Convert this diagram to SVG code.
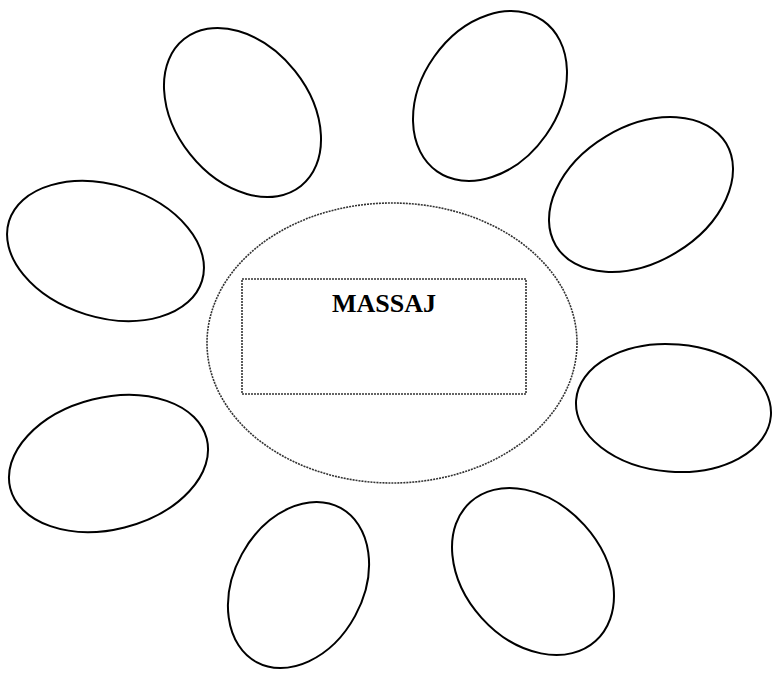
<svg xmlns="http://www.w3.org/2000/svg" width="773" height="673" viewBox="0 0 773 673">
<style>
.petal{fill:none;stroke:#000;stroke-width:2}
.dot{fill:none;stroke:#333;stroke-width:1.6;stroke-dasharray:2 1}
.title{font-family:"Liberation Serif","Times New Roman",serif;font-weight:bold;font-size:26px;fill:#000}
</style>
<rect width="773" height="673" fill="#fff"/>
<g id="center">
<ellipse class="dot" cx="392" cy="343" rx="185" ry="140"/>
<rect class="dot" x="242" y="279" width="284" height="115"/>
<text class="title" x="384" y="312" text-anchor="middle">MASSAJ</text>
</g>
<g id="petal1"><ellipse class="petal" transform="translate(242.5 112.5) rotate(51.5)" rx="93.9" ry="67"/></g>
<g id="petal2"><ellipse class="petal" transform="translate(490 96) rotate(-54.9)" rx="92.1" ry="68.3"/></g>
<g id="petal3"><ellipse class="petal" transform="translate(641 194.5) rotate(-31)" rx="99.3" ry="67.9"/></g>
<g id="petal4"><ellipse class="petal" transform="translate(105.5 251) rotate(17.2)" rx="101" ry="66.3"/></g>
<g id="petal5"><ellipse class="petal" transform="translate(673.5 408) rotate(4.7)" rx="97.7" ry="63.7"/></g>
<g id="petal6"><ellipse class="petal" transform="translate(108.5 463.5) rotate(-14.1)" rx="101.3" ry="65.9"/></g>
<g id="petal7"><ellipse class="petal" transform="translate(298.5 585) rotate(-61.4)" rx="87.8" ry="64.5"/></g>
<g id="petal8"><ellipse class="petal" transform="translate(533 571.5) rotate(48)" rx="93.5" ry="69.2"/></g>
<g id="connectors"></g>
</svg>
